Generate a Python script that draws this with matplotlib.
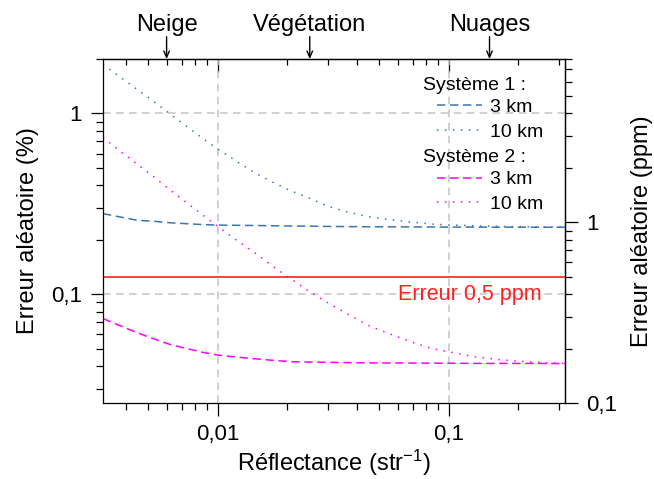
import matplotlib

matplotlib.use("Agg")
import numpy as np  # noqa: E402
import matplotlib.pyplot as plt  # noqa: E402
from matplotlib.ticker import (FixedLocator, FuncFormatter, LogLocator,  # noqa: E402
                               NullFormatter)

plt.rcParams["font.family"] = ["Liberation Sans", "DejaVu Sans"]
plt.rcParams["mathtext.fontset"] = "custom"
plt.rcParams["mathtext.rm"] = "Liberation Sans"
plt.rcParams["mathtext.it"] = "Liberation Sans:italic"

# reflectance (str^-1)
reflectance = [0.00318, 0.0038, 0.0045, 0.0053, 0.0063, 0.0075, 0.0087, 0.01,
               0.012, 0.0145, 0.0175, 0.021, 0.025, 0.03, 0.036, 0.045, 0.055,
               0.07, 0.085, 0.1, 0.13, 0.17, 0.22, 0.318]
# erreur aleatoire (%)
s1_3km = [0.279, 0.267, 0.256, 0.253, 0.248, 0.245, 0.2425, 0.241, 0.2405,
          0.2398, 0.239, 0.2383, 0.2378, 0.237, 0.2365, 0.236, 0.2358, 0.2355,
          0.2353, 0.235, 0.235, 0.2348, 0.2347, 0.2345]
s1_10km = [1.87, 1.58, 1.35, 1.16, 0.98, 0.83, 0.72, 0.635, 0.545, 0.468,
           0.413, 0.37, 0.339, 0.306, 0.286, 0.268, 0.259, 0.25, 0.244,
           0.2415, 0.239, 0.237, 0.236, 0.235]
s2_3km = [0.0733, 0.0667, 0.061, 0.0565, 0.0524, 0.0497, 0.0475, 0.046,
          0.0449, 0.0439, 0.043, 0.0423, 0.0421, 0.042, 0.0418, 0.0417,
          0.0416, 0.0416, 0.0415, 0.0415, 0.0414, 0.0414, 0.0414, 0.0413]
s2_10km = [0.736, 0.615, 0.521, 0.444, 0.372, 0.314, 0.271, 0.237, 0.1995,
           0.169, 0.141, 0.12, 0.103, 0.0895, 0.0783, 0.067, 0.0605, 0.054,
           0.0499, 0.048, 0.045, 0.0433, 0.0422, 0.0414]

seuil_ppm = 0.5
ppm_par_pct = 4.0
ppm_ticks = [0.1, 1]
surfaces = ["Neige", "Végétation", "Nuages"]
surfaces_x = [0.006, 0.025, 0.15]

x_lim = (0.01 / np.pi, 1 / np.pi)
y_lim = (0.025, 2.0)

blue = "#3a76b0"
magenta = "#ff00ff"
red = "#ff2020"


def virgule(v, pos):
    return f"{v:g}".replace(".", ",")


fig = plt.figure(figsize=(6.54, 4.79), dpi=100)
ax = fig.add_axes([103 / 654, 76 / 479, 462 / 654, 344 / 479])

dash = (0, (5.5, 3))
dot = (0, (1, 4.2))
l1a, = ax.plot(reflectance, s1_3km, color=blue, lw=1.1, ls=dash, label="3 km")
l1b, = ax.plot(reflectance, s1_10km, color=blue, lw=1.1, ls=dot, label="10 km")
l2a, = ax.plot(reflectance, s2_3km, color=magenta, lw=1.1, ls=dash, label="3 km")
l2b, = ax.plot(reflectance, s2_10km, color=magenta, lw=1.1, ls=dot, label="10 km")

seuil_pct = seuil_ppm / ppm_par_pct
ax.axhline(seuil_pct, color=red, lw=1.2)
ax.annotate("Erreur 0,5 ppm", xy=(0.95, seuil_pct),
            xycoords=("axes fraction", "data"), xytext=(0, -17),
            textcoords="offset points", ha="right", va="baseline",
            color=red, fontsize=15.5)

ax.set_xscale("log")
ax.set_yscale("log")
ax.set_xlim(*x_lim)
ax.set_ylim(*y_lim)
ax.grid(which="major", color="#c4c4c4", ls=(0, (5, 3.5)), lw=1.1)

for axis in (ax.xaxis, ax.yaxis):
    axis.set_major_locator(LogLocator(base=10))
    axis.set_minor_locator(LogLocator(base=10, subs=np.arange(2, 10)))
    axis.set_major_formatter(FuncFormatter(virgule))
    axis.set_minor_formatter(NullFormatter())
ax.tick_params(which="both", direction="out", width=0.9, labelsize=16,
               top=False, right=False)
ax.tick_params(which="major", length=9, pad=6)
ax.tick_params(which="minor", length=5)
for sp in ax.spines.values():
    sp.set_linewidth(0.9)

# top axis: same scale, ticks pointing in, no labels
top = ax.secondary_xaxis("top")
top.xaxis.set_major_locator(LogLocator(base=10))
top.xaxis.set_minor_locator(LogLocator(base=10, subs=np.arange(2, 10)))
top.xaxis.set_major_formatter(NullFormatter())
top.xaxis.set_minor_formatter(NullFormatter())
top.tick_params(which="both", direction="in", width=0.9)
top.tick_params(which="major", length=9)
top.tick_params(which="minor", length=4.5)
top.spines["top"].set_linewidth(0.9)

# right axis in ppm
right = ax.secondary_yaxis("right", functions=(lambda y: y * ppm_par_pct,
                                               lambda y: y / ppm_par_pct))
right.yaxis.set_major_locator(FixedLocator(ppm_ticks))
right.yaxis.set_minor_locator(LogLocator(base=10, subs=np.arange(2, 10)))
right.yaxis.set_major_formatter(FuncFormatter(virgule))
right.yaxis.set_minor_formatter(NullFormatter())
right.tick_params(which="both", direction="out", width=0.9, labelsize=16)
right.tick_params(which="major", length=9, pad=6)
right.tick_params(which="minor", length=5)
right.spines["right"].set_linewidth(0.9)
right.set_ylabel("Erreur aléatoire (ppm)", fontsize=17, labelpad=10)

ax.set_xlabel("Réflectance (str$^{-1}$)", fontsize=17, labelpad=2)
ax.set_ylabel("Erreur aléatoire (%)", fontsize=17, labelpad=9)

for name, xv in zip(surfaces, surfaces_x):
    ax.annotate("", xy=(xv, 1.0), xycoords=("data", "axes fraction"),
                xytext=(xv, 1.065), textcoords=("data", "axes fraction"),
                arrowprops=dict(arrowstyle="->,head_length=0.45,head_width=0.2",
                                color="black", lw=1, shrinkA=0, shrinkB=0))
    ax.annotate(name, xy=(xv, 1.0), xycoords=("data", "axes fraction"),
                xytext=(0, 20), textcoords="offset points",
                ha="center", va="baseline", fontsize=17)

# legend: headers as text, entries as two legends
leg_kw = dict(frameon=False, fontsize=14, loc="upper left",
              handlelength=2.3, handletextpad=0.4, labelspacing=0.36,
              borderpad=0, borderaxespad=0)
ax.text(0.693, 0.922, "Système 1 :", transform=ax.transAxes, fontsize=14,
        ha="left", va="center")
leg1 = ax.legend(handles=[l1a, l1b], bbox_to_anchor=(0.723, 0.885), **leg_kw)
ax.add_artist(leg1)
ax.text(0.693, 0.715, "Système 2 :", transform=ax.transAxes, fontsize=14,
        ha="left", va="center")
ax.legend(handles=[l2a, l2b], bbox_to_anchor=(0.723, 0.675), **leg_kw)

fig.savefig("out.png", dpi=100)
plt.close(fig)
